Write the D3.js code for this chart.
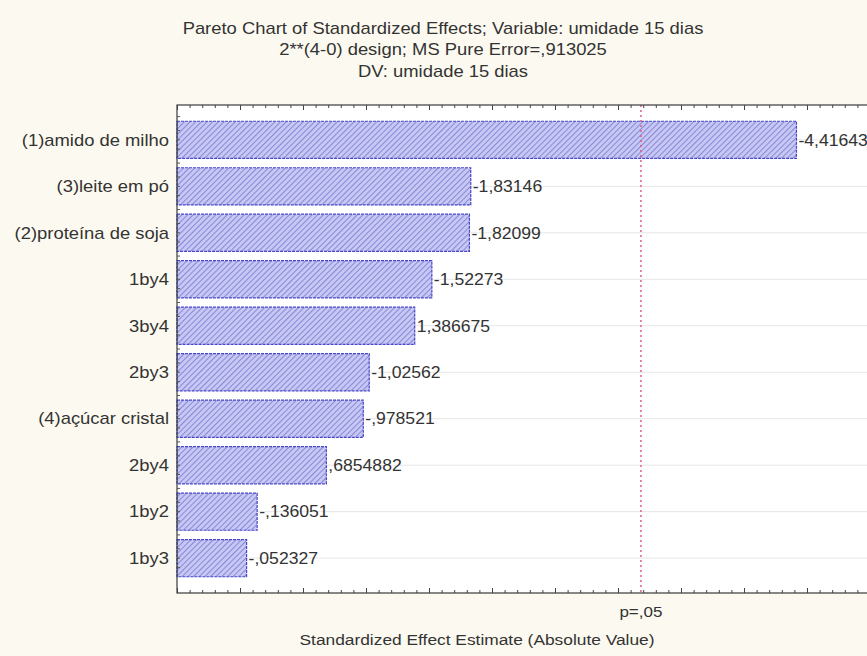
<!DOCTYPE html>
<html>
<head>
<meta charset="utf-8">
<script src="https://cdn.jsdelivr.net/npm/d3@7"></script>
<style>
  html, body { margin: 0; padding: 0; background: #fcfaf0; }
  svg { display: block; }
  text { font-family: "Liberation Sans", Arial, sans-serif; fill: #333; }
</style>
</head>
<body>
<svg id="chart" width="867" height="656"></svg>
<script>
// Effects, in Pareto order (largest absolute value first)
const effects = ["(1)amido de milho", "(3)leite em pó", "(2)proteína de soja", "1by4", "3by4",
                 "2by3", "(4)açúcar cristal", "2by4", "1by2", "1by3"];
const estimates = [-4.41643, -1.83146, -1.82099, -1.52273, 1.386675,
                   -1.02562, -0.978521, 0.6854882, -0.136051, -0.052327];
const estimateLabels = ["-4,41643", "-1,83146", "-1,82099", "-1,52273", "1,386675",
                        "-1,02562", "-,978521", ",6854882", "-,136051", "-,052327"];
const criticalT = 3.182;           // p = .05 reference value
const criticalLabel = "p=,05";
const titleLines = ["Pareto Chart of Standardized Effects; Variable: umidade 15 dias",
                    "2**(4-0) design; MS Pure Error=,913025",
                    "DV: umidade 15 dias"];
const xTitle = "Standardized Effect Estimate (Absolute Value)";

const svg = d3.select("#chart");
const plot = { left: 177, top: 105, right: 933, bottom: 593 };

const x = d3.scaleLinear().domain([-0.5, 5.5]).range([plot.left, plot.right]);
const y = d3.scaleBand().domain(effects).range([plot.top, plot.bottom])
  .paddingInner(0.2).paddingOuter(0.35);

// text set in a slightly wide face: placed at (px, py), stretched horizontally by sx
function wideText(sel, px, py, sx) {
  return sel.attr("x", 0).attr("y", 0)
    .attr("transform", (d, i) => `translate(${px(d, i)},${py(d, i)}) scale(${sx},1)`);
}

// hatch fill for bars
const defs = svg.append("defs");
const pat = defs.append("pattern").attr("id", "hatch")
  .attr("patternUnits", "userSpaceOnUse").attr("width", 4).attr("height", 4)
  .attr("patternTransform", "rotate(45)");
pat.append("rect").attr("width", 4).attr("height", 4).attr("fill", "#c8c8f5");
pat.append("line").attr("x1", 0.5).attr("y1", 0).attr("x2", 0.5).attr("y2", 4)
  .attr("stroke", "#8989d8").attr("stroke-width", 1.1);

// plot background
svg.append("rect").attr("x", plot.left).attr("y", plot.top)
  .attr("width", plot.right - plot.left).attr("height", plot.bottom - plot.top)
  .attr("fill", "#ffffff");

// horizontal grid at each effect row
svg.append("g").selectAll("line").data(effects).join("line")
  .attr("x1", plot.left).attr("x2", plot.right)
  .attr("y1", d => y(d) + y.bandwidth() / 2).attr("y2", d => y(d) + y.bandwidth() / 2)
  .attr("stroke", "#e6e6e6").attr("stroke-width", 1);

// bars (absolute value of each standardized effect)
svg.append("g").selectAll("rect").data(effects).join("rect")
  .attr("x", plot.left)
  .attr("y", d => y(d))
  .attr("width", (d, i) => x(Math.abs(estimates[i])) - plot.left)
  .attr("height", y.bandwidth())
  .attr("fill", "url(#hatch)")
  .attr("stroke", "#4747c8").attr("stroke-width", 1.2)
  .attr("stroke-dasharray", "3,1");

// value labels
wideText(svg.append("g").selectAll("text").data(effects).join("text"),
  (d, i) => x(Math.abs(estimates[i])) + 2, d => y(d) + y.bandwidth() / 2, 1.1)
  .attr("dy", "0.36em")
  .attr("font-size", 16)
  .text((d, i) => estimateLabels[i]);

// category labels
wideText(svg.append("g").selectAll("text").data(effects).join("text"),
  () => plot.left - 8, d => y(d) + y.bandwidth() / 2, 1.15)
  .attr("dy", "0.36em")
  .attr("text-anchor", "end")
  .attr("font-size", 16)
  .text(d => d);

// critical value line
svg.append("line")
  .attr("x1", x(criticalT)).attr("x2", x(criticalT))
  .attr("y1", plot.top).attr("y2", plot.bottom)
  .attr("stroke", "#e0557a").attr("stroke-width", 1.4)
  .attr("stroke-dasharray", "2,3");

// frame
svg.append("rect").attr("x", plot.left).attr("y", plot.top)
  .attr("width", plot.right - plot.left).attr("height", plot.bottom - plot.top)
  .attr("fill", "none").attr("stroke", "#3a3a3a").attr("stroke-width", 1.2);

// inward ticks along the bottom and top edges
const minorTicks = d3.range(-5, 56).map(v => v / 10);
const isMajor = d => Math.abs(Math.round(d * 10) % 5) === 0;
const xAxisB = d3.axisTop(x).tickValues(minorTicks).tickFormat("")
  .tickSizeInner(3).tickSizeOuter(0);
const gb = svg.append("g").attr("transform", `translate(0,${plot.bottom})`).call(xAxisB);
gb.select(".domain").remove();
gb.selectAll(".tick line").attr("stroke", "#444").attr("y2", d => isMajor(d) ? -5 : -3);
const xAxisT = d3.axisBottom(x).tickValues(minorTicks).tickFormat("")
  .tickSizeInner(3).tickSizeOuter(0);
const gt = svg.append("g").attr("transform", `translate(0,${plot.top})`).call(xAxisT);
gt.select(".domain").remove();
gt.selectAll(".tick line").attr("stroke", "#444").attr("y2", d => isMajor(d) ? 5 : 3);

// small inward ticks along the left edge
const leftTicks = [];
effects.forEach(d => {
  leftTicks.push(y(d) - y.step() * 0.1);
  leftTicks.push(y(d) + y.bandwidth() * 0.25);
  leftTicks.push(y(d) + y.bandwidth() * 0.5);
  leftTicks.push(y(d) + y.bandwidth() * 0.75);
});
svg.append("g").selectAll("line").data(leftTicks).join("line")
  .attr("x1", plot.left).attr("x2", plot.left + 3)
  .attr("y1", d => d).attr("y2", d => d)
  .attr("stroke", "#555").attr("stroke-width", 1);

// titles
wideText(svg.append("g").selectAll("text").data(titleLines).join("text"),
  () => 443, (d, i) => 33.5 + i * 21.5, 1.15)
  .attr("text-anchor", "middle").attr("font-size", 16)
  .text(d => d);

wideText(svg.append("g").selectAll("text").data([criticalLabel]).join("text"),
  () => x(criticalT), () => 617, 1.12)
  .attr("text-anchor", "middle").attr("font-size", 15.2).text(d => d);

wideText(svg.append("g").selectAll("text").data([xTitle]).join("text"),
  () => 477, () => 645, 1.12)
  .attr("text-anchor", "middle").attr("font-size", 15.5).text(d => d);
</script>
</body>
</html>
